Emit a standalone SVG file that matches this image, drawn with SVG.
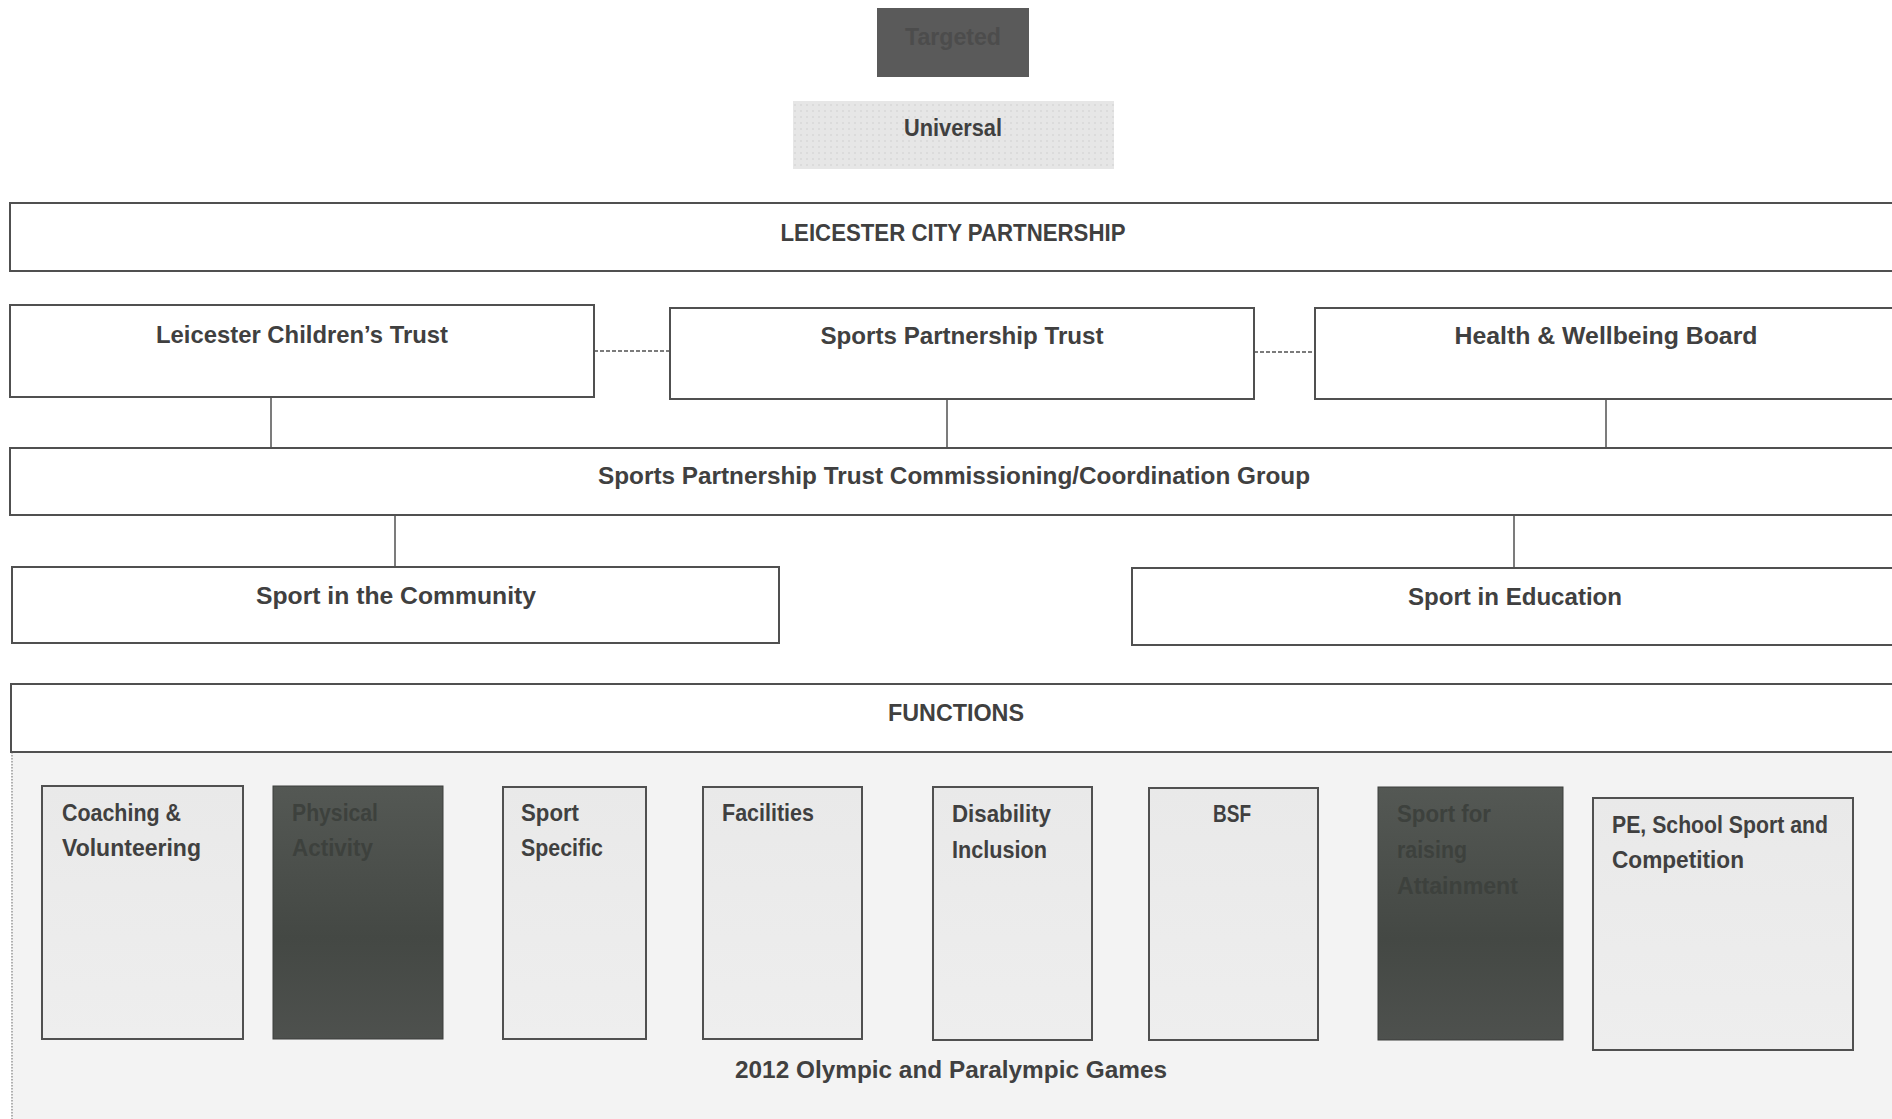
<svg xmlns="http://www.w3.org/2000/svg" width="1892" height="1119" viewBox="0 0 1892 1119">
<defs>
<style>
.box{fill:#ffffff;stroke:#505050;stroke-width:2}
.lt{fill:url(#lightGrad);stroke:#505050;stroke-width:2}
.dk{fill:url(#darkGrad);stroke:#3c3f3c;stroke-width:1}
.t{font-family:"Liberation Sans",Arial,sans-serif;font-weight:bold;font-size:24px;fill:#404040}
.c{text-anchor:middle}
.td{fill:#3d413d}
.con{stroke:#505050;stroke-width:1.5;fill:none}
.dash{stroke:#505050;stroke-width:1.5;stroke-dasharray:4 2;fill:none}
</style>
<linearGradient id="lightGrad" x1="0" y1="0" x2="0" y2="1">
<stop offset="0" stop-color="#e9e9e9"/>
<stop offset="1" stop-color="#eeeeee"/>
</linearGradient>
<linearGradient id="darkGrad" x1="0" y1="0" x2="0" y2="1">
<stop offset="0" stop-color="#545854"/>
<stop offset="0.6" stop-color="#444844"/>
<stop offset="1" stop-color="#4e514e"/>
</linearGradient>
<pattern id="dots" width="6" height="6" patternUnits="userSpaceOnUse">
<rect width="6" height="6" fill="#e6e6e6"/>
<circle cx="3" cy="3" r="1" fill="#d8d8d8"/>
</pattern>
</defs>
<rect width="1892" height="1119" fill="#ffffff"/>

<g id="legend-targeted">
<rect x="877" y="8" width="152" height="69" fill="#5a5a5a"/>
<text class="t c" x="953" y="45" style="fill:#4c4c4c" textLength="96" lengthAdjust="spacingAndGlyphs">Targeted</text>
</g>
<g id="legend-universal">
<rect x="793" y="101" width="321" height="68" fill="url(#dots)"/>
<text class="t c" x="953" y="136" textLength="98" lengthAdjust="spacingAndGlyphs">Universal</text>
</g>

<g id="connectors">
<line class="dash" x1="594" y1="351" x2="670" y2="351"/>
<line class="dash" x1="1254" y1="352" x2="1315" y2="352"/>
<line class="con" x1="271" y1="397" x2="271" y2="448"/>
<line class="con" x1="947" y1="399" x2="947" y2="448"/>
<line class="con" x1="1606" y1="399" x2="1606" y2="448"/>
<line class="con" x1="395" y1="515" x2="395" y2="567"/>
<line class="con" x1="1514" y1="516" x2="1514" y2="568"/>
</g>

<g id="leicester-city-partnership">
<rect class="box" x="10" y="203" width="1900" height="68"/>
<text class="t c" x="953" y="241" textLength="345" lengthAdjust="spacingAndGlyphs">LEICESTER CITY PARTNERSHIP</text>
</g>
<g id="childrens-trust">
<rect class="box" x="10" y="305" width="584" height="92"/>
<text class="t c" x="302" y="343" textLength="292" lengthAdjust="spacingAndGlyphs">Leicester Children’s Trust</text>
</g>
<g id="sports-partnership-trust">
<rect class="box" x="670" y="308" width="584" height="91"/>
<text class="t c" x="962" y="344" textLength="283" lengthAdjust="spacingAndGlyphs">Sports Partnership Trust</text>
</g>
<g id="health-wellbeing-board">
<rect class="box" x="1315" y="308" width="600" height="91"/>
<text class="t c" x="1606" y="344" textLength="303" lengthAdjust="spacingAndGlyphs">Health &amp; Wellbeing Board</text>
</g>
<g id="commissioning-group">
<rect class="box" x="10" y="448" width="1900" height="67"/>
<text class="t c" x="954" y="484" textLength="712" lengthAdjust="spacingAndGlyphs">Sports Partnership Trust Commissioning/Coordination Group</text>
</g>
<g id="sport-in-community">
<rect class="box" x="12" y="567" width="767" height="76"/>
<text class="t c" x="396" y="604" textLength="280" lengthAdjust="spacingAndGlyphs">Sport in the Community</text>
</g>
<g id="sport-in-education">
<rect class="box" x="1132" y="568" width="780" height="77"/>
<text class="t c" x="1515" y="605" textLength="214" lengthAdjust="spacingAndGlyphs">Sport in Education</text>
</g>

<g id="functions-area">
<rect x="11" y="752" width="1890" height="380" fill="#f3f3f3"/>
<line x1="12" y1="752" x2="12" y2="1119" stroke="#9a9a9a" stroke-width="1.5" stroke-dasharray="1.5 1.5"/>
</g>
<g id="functions">
<rect class="box" x="11" y="684" width="1900" height="68"/>
<text class="t c" x="956" y="721" textLength="136" lengthAdjust="spacingAndGlyphs">FUNCTIONS</text>
</g>

<g id="coaching-volunteering">
<rect class="lt" x="42" y="786" width="201" height="253"/>
<text class="t" x="62" y="821" textLength="119" lengthAdjust="spacingAndGlyphs">Coaching &amp;</text>
<text class="t" x="62" y="856" textLength="139" lengthAdjust="spacingAndGlyphs">Volunteering</text>
</g>
<g id="physical-activity">
<rect class="dk" x="273" y="786" width="170" height="253"/>
<text class="t td" x="292" y="821" textLength="86" lengthAdjust="spacingAndGlyphs">Physical</text>
<text class="t td" x="292" y="856" textLength="81" lengthAdjust="spacingAndGlyphs">Activity</text>
</g>
<g id="sport-specific">
<rect class="lt" x="503" y="787" width="143" height="252"/>
<text class="t" x="521" y="821" textLength="58" lengthAdjust="spacingAndGlyphs">Sport</text>
<text class="t" x="521" y="856" textLength="82" lengthAdjust="spacingAndGlyphs">Specific</text>
</g>
<g id="facilities">
<rect class="lt" x="703" y="787" width="159" height="252"/>
<text class="t" x="722" y="821" textLength="92" lengthAdjust="spacingAndGlyphs">Facilities</text>
</g>
<g id="disability-inclusion">
<rect class="lt" x="933" y="787" width="159" height="253"/>
<text class="t" x="952" y="822" textLength="99" lengthAdjust="spacingAndGlyphs">Disability</text>
<text class="t" x="952" y="858" textLength="95" lengthAdjust="spacingAndGlyphs">Inclusion</text>
</g>
<g id="bsf">
<rect class="lt" x="1149" y="788" width="169" height="252"/>
<text class="t c" x="1232" y="822" textLength="38" lengthAdjust="spacingAndGlyphs">BSF</text>
</g>
<g id="sport-raising-attainment">
<rect class="dk" x="1378" y="787" width="185" height="253"/>
<text class="t td" x="1397" y="822" textLength="94" lengthAdjust="spacingAndGlyphs">Sport for</text>
<text class="t td" x="1397" y="858" textLength="70" lengthAdjust="spacingAndGlyphs">raising</text>
<text class="t td" x="1397" y="894" textLength="121" lengthAdjust="spacingAndGlyphs">Attainment</text>
</g>
<g id="pe-school-sport">
<rect class="lt" x="1593" y="798" width="260" height="252"/>
<text class="t" x="1612" y="833" textLength="216" lengthAdjust="spacingAndGlyphs">PE, School Sport and</text>
<text class="t" x="1612" y="868" textLength="132" lengthAdjust="spacingAndGlyphs">Competition</text>
</g>
<g id="olympic-games">
<text class="t c" x="951" y="1078" textLength="432" lengthAdjust="spacingAndGlyphs">2012 Olympic and Paralympic Games</text>
</g>
</svg>
